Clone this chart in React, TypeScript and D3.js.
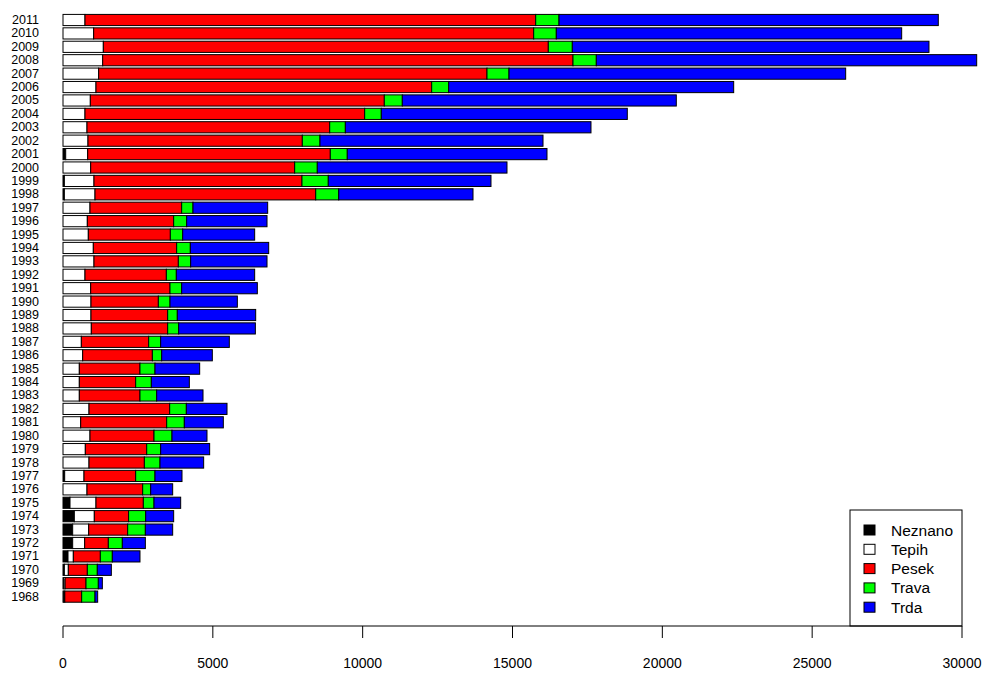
import React from "react";
import * as d3 from "d3";

// Years, top of the chart first
const years = [
  2011, 2010, 2009, 2008, 2007, 2006, 2005, 2004, 2003, 2002, 2001, 2000, 1999, 1998,
  1997, 1996, 1995, 1994, 1993, 1992, 1991, 1990, 1989, 1988, 1987, 1986, 1985, 1984,
  1983, 1982, 1981, 1980, 1979, 1978, 1977, 1976, 1975, 1974, 1973, 1972, 1971, 1970,
  1969, 1968,
];

// Series values per year (same order as years)
const neznano = [
  0, 0, 0, 0, 0, 0, 0, 0, 0, 0, 90, 0, 45, 45,
  0, 0, 0, 0, 0, 0, 0, 0, 0, 0, 0, 0, 0, 0,
  0, 0, 0, 0, 0, 0, 56, 0, 234, 378, 323, 323, 167, 45,
  30, 30,
];
const tepih = [
  734, 1023, 1346, 1324, 1190, 1101, 912, 734, 801, 834, 734, 924, 989, 1023,
  901, 812, 845, 1012, 1034, 734, 924, 934, 934, 945, 612, 656, 545, 545,
  545, 868, 590, 901, 745, 868, 645, 801, 867, 667, 534, 400, 178, 133,
  40, 30,
];
const pesek = [
  15040, 14684, 14849, 15695, 12959, 11202, 9810, 9333, 8099, 7152, 8096, 6807, 6941, 7365,
  3059, 2881, 2737, 2781, 2815, 2715, 2647, 2248, 2559, 2548, 2247, 2326, 2024, 1880,
  2024, 2692, 2870, 2136, 2048, 1847, 1724, 1858, 1580, 1144, 1301, 790, 901, 634,
  698, 563,
];
const trava = [
  778, 755, 801, 778, 734, 567, 601, 555, 522, 590, 567, 755, 878, 767,
  378, 434, 412, 456, 411, 333, 389, 389, 322, 367, 400, 311, 501, 523,
  557, 556, 589, 600, 466, 522, 645, 267, 356, 570, 590, 467, 400, 333,
  411, 445,
];
const trda = [
  12657, 11525, 11902, 12693, 11235, 9511, 9143, 8209, 8197, 7442, 6664, 6330, 5429, 4482,
  2492, 2681, 2402, 2615, 2548, 2614, 2525, 2247, 2615, 2559, 2291, 1690, 1491, 1268,
  1546, 1357, 1301, 1168, 1635, 1457, 901, 734, 890, 934, 912, 768, 923, 468,
  134, 89,
];

const seriesNames = ["Neznano", "Tepih", "Pesek", "Trava", "Trda"];
const seriesColors = ["#000000", "#ffffff", "#ff0000", "#00ff00", "#0000ff"];
const xTicks = [0, 5000, 10000, 15000, 20000, 25000, 30000];

const W = 986;
const H = 673;

export default function App() {
  const rows = years.map((year, i) => ({
    year,
    Neznano: neznano[i],
    Tepih: tepih[i],
    Pesek: pesek[i],
    Trava: trava[i],
    Trda: trda[i],
  }));

  const stack = d3.stack<any>().keys(seriesNames);
  const layers = stack(rows);

  const x = d3.scaleLinear().domain([0, 30000]).range([63, 962]);
  const step = 13.41;
  const y = d3
    .scaleBand<number>()
    .domain(years)
    .range([20 - step / 2, 20 - step / 2 + step * years.length])
    .paddingInner(1 / 6)
    .paddingOuter(1 / 12);

  const axisY = 626;
  const font = "'Liberation Sans', Arial, Helvetica, sans-serif";

  const legendX = 850;
  const legendY = 510;

  return (
    <svg
      width={W}
      height={H}
      style={{ position: "absolute", left: 0, top: 0, background: "#fff" }}
      fontFamily={font}
    >
      {layers.map((layer, li) => (
        <g key={layer.key} fill={seriesColors[li]} stroke="#000" strokeWidth={1}>
          {layer.map((d: any) => {
            const w = x(d[1]) - x(d[0]);
            if (w <= 0) return null;
            return (
              <rect
                key={d.data.year}
                x={x(d[0])}
                y={y(d.data.year)}
                width={w}
                height={y.bandwidth()}
              />
            );
          })}
        </g>
      ))}

      {years.map((yr) => (
        <text
          key={yr}
          x={39}
          y={(y(yr) as number) + y.bandwidth() / 2}
          textAnchor="end"
          dominantBaseline="central"
          fontSize={12.5}
          fill="#000"
        >
          {yr}
        </text>
      ))}

      <g>
        <rect
          x={legendX}
          y={legendY}
          width={962 - legendX}
          height={axisY - legendY}
          fill="#fff"
          stroke="#000"
        />
        {seriesNames.map((name, i) => {
          const cy = 530 + i * 19.3;
          return (
            <g key={name}>
              <rect
                x={864}
                y={cy - 5}
                width={11}
                height={10}
                fill={seriesColors[i]}
                stroke="#000"
              />
              <text x={891} y={cy} dominantBaseline="central" fontSize={15.5} fill="#000">
                {name}
              </text>
            </g>
          );
        })}
      </g>

      <g>
        <line x1={x(0)} x2={x(30000)} y1={axisY} y2={axisY} stroke="#000" />
        {xTicks.map((t) => (
          <g key={t}>
            <line x1={x(t)} x2={x(t)} y1={axisY} y2={axisY + 12} stroke="#000" />
            <text
              x={x(t)}
              y={663}
              textAnchor="middle"
              dominantBaseline="central"
              fontSize={14}
              fill="#000"
            >
              {t}
            </text>
          </g>
        ))}
      </g>
    </svg>
  );
}
